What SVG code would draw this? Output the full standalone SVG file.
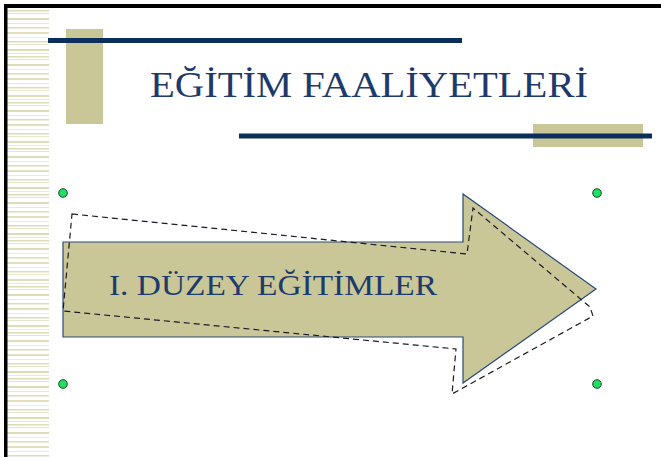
<svg xmlns="http://www.w3.org/2000/svg" width="661" height="457" viewBox="0 0 661 457">
<style>
.frame{fill:#000}
.khaki{fill:#c9c697}
.navy{fill:#0c2e5c}
.title{font-family:"Liberation Serif","Times New Roman",serif;fill:#1d3a6c}
.handle{fill:#1fe060;stroke:#1a4a2a;stroke-width:1}
.dash{fill:none;stroke:#1a1a2a;stroke-width:1.2;stroke-dasharray:6 4}
.stripe{fill:#dedcb6}
</style>
<defs>
<pattern id="stripes" x="7" y="10" width="42" height="46" patternUnits="userSpaceOnUse">
<rect class="stripe" x="0" y="0" width="42" height="1.5"/>
<rect class="stripe" x="0" y="3" width="42" height="1" opacity="0.7"/>
<rect class="stripe" x="0" y="8" width="42" height="2"/>
<rect class="stripe" x="0" y="13" width="42" height="1" opacity="0.6"/>
<rect class="stripe" x="0" y="17" width="42" height="1.5"/>
<rect class="stripe" x="0" y="22" width="42" height="2" opacity="0.9"/>
<rect class="stripe" x="0" y="27" width="42" height="1" opacity="0.6"/>
<rect class="stripe" x="0" y="31" width="42" height="1.5"/>
<rect class="stripe" x="0" y="34" width="42" height="1" opacity="0.7"/>
<rect class="stripe" x="0" y="39" width="42" height="2"/>
<rect class="stripe" x="0" y="43" width="42" height="1" opacity="0.6"/>
</pattern>
</defs>
<rect width="661" height="457" fill="#fff"/>
<rect x="7" y="10" width="42" height="447" fill="url(#stripes)"/>
<rect class="frame" x="4" y="4" width="657" height="4"/>
<rect class="frame" x="4" y="4" width="3.5" height="453"/>

<g id="decor">
<rect class="khaki" x="66" y="29" width="37" height="95"/>
<rect class="navy" x="48" y="38" width="414" height="5"/>
<rect class="khaki" x="533" y="124" width="110" height="23"/>
<rect class="navy" x="239" y="133.5" width="413" height="5"/>
</g>

<g id="title">
<text class="title" x="150" y="97" font-size="36" textLength="438" lengthAdjust="spacingAndGlyphs">EĞİTİM FAALİYETLERİ</text>
</g>

<g id="arrow">
<polygon points="63,242 463,242 463,194 596,289 463,383 463,337 63,337" fill="#c9c697" stroke="#2a4a78" stroke-width="1.2"/>
<polygon class="dash" points="72,214 467,254 473,208 590,307 593,316 452,394 456,349 63,311"/>
<text class="title" x="109" y="295" font-size="30" textLength="328" lengthAdjust="spacingAndGlyphs">I. DÜZEY EĞİTİMLER</text>
</g>

<g id="handles">
<circle class="handle" cx="63" cy="193" r="4.3"/>
<circle class="handle" cx="597" cy="193" r="4.3"/>
<circle class="handle" cx="63" cy="384" r="4.3"/>
<circle class="handle" cx="597" cy="384" r="4.3"/>
</g>
</svg>
